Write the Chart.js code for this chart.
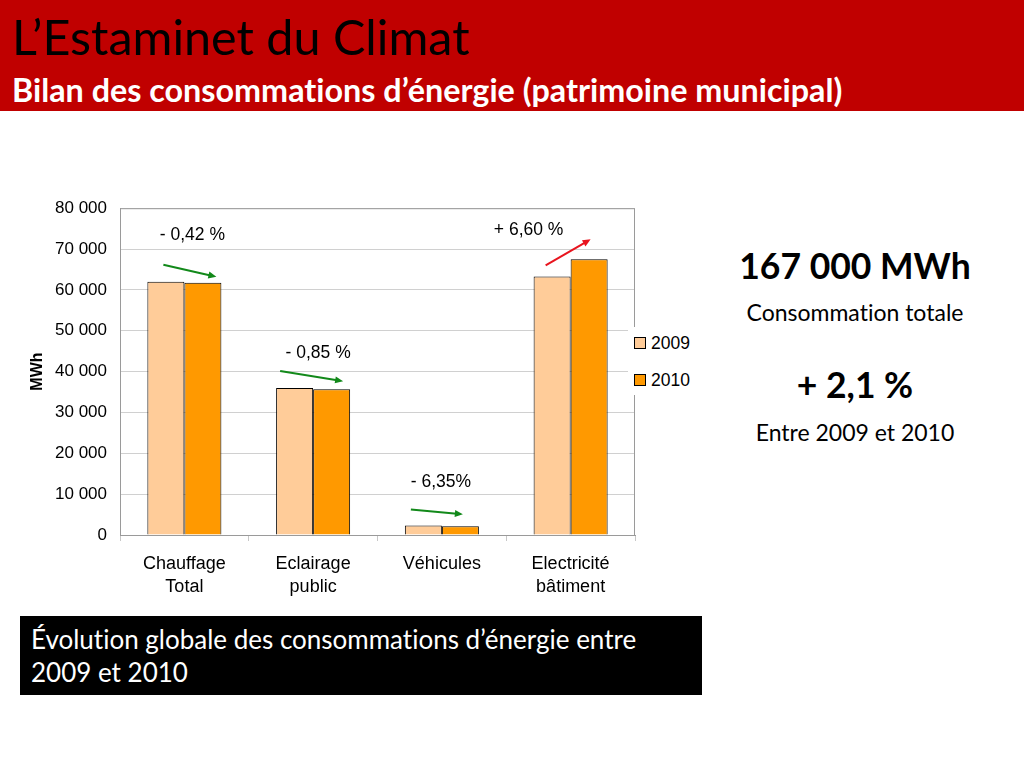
<!DOCTYPE html>
<html>
<head>
<meta charset="utf-8">
<script src="https://cdn.jsdelivr.net/npm/chart.js@4.4.0/dist/chart.umd.min.js"></script>
<style>
  body { margin: 0; width: 1024px; height: 768px; background: #fff; position: relative; overflow: hidden; font-family: Lato, "Open Sans", sans-serif; font-variant-ligatures: none; }
  .header { position: absolute; left: 0; top: 0; width: 1024px; height: 111px; background: #c00000; }
  .title { position: absolute; left: 12px; top: 7px; font-size: 48.5px; color: #000; white-space: nowrap; }
  .subtitle { position: absolute; left: 12px; top: 70px; font-size: 32.3px; font-weight: bold; color: #fff; white-space: nowrap; }
  .chartBox { position: absolute; left: 20px; top: 185px; width: 660px; height: 420px; }
  .legend { position: absolute; left: 628px; top: 327px; width: 66px; height: 68px; background: #fff; font-family: "Liberation Sans", Arial, sans-serif; font-size: 17.5px; }
  .legend div { position: absolute; left: 6px; white-space: nowrap; }
  .legend span { display: inline-block; width: 10px; height: 10px; border: 1px solid #000; margin-right: 5px; vertical-align: 0px; }
  .side { position: absolute; left: 705px; width: 300px; text-align: center; color: #000; white-space: nowrap; }
  .big { font-size: 35.5px; font-weight: bold; }
  .small { font-size: 23px; }
  .note { position: absolute; left: 20px; top: 616px; width: 682px; height: 79px; background: #000; color: #fff; font-size: 26px; line-height: 33px; padding: 7px 11px; box-sizing: border-box; }
</style>
</head>
<body>
<div class="header">
  <div class="title">L’Estaminet du Climat</div>
  <div class="subtitle">Bilan des consommations d’énergie (patrimoine municipal)</div>
</div>

<div class="chartBox"><canvas id="chart"></canvas></div>
<div class="legend">
  <div style="top: 6px"><span style="background:#ffcc99"></span>2009</div>
  <div style="top: 43px"><span style="background:#ff9900"></span>2010</div>
</div>

<div class="side big" style="top: 244px">167 000 MWh</div>
<div class="side small" style="top: 298px">Consommation totale</div>
<div class="side big" style="top: 363px">+ 2,1 %</div>
<div class="side small" style="top: 418px">Entre 2009 et 2010</div>

<div class="note">Évolution globale des consommations d’énergie entre 2009 et 2010</div>

<script>
const categories = [['Chauffage', 'Total'], ['Eclairage', 'public'], ['Véhicules'], ['Electricité', 'bâtiment']];
const values2009 = [62000, 36000, 2300, 63300];
const values2010 = [61740, 35700, 2150, 67480];
const changeLabels = ['- 0,42 %', '- 0,85 %', '- 6,35%', '+ 6,60 %'];
const yTicks = [0, 10000, 20000, 30000, 40000, 50000, 60000, 70000, 80000];

const chartFont = '"Liberation Sans", Arial, sans-serif';

// flèches + pourcentages au-dessus des barres
const arrowPlugin = {
  id: 'arrows',
  afterDatasetsDraw(chart) {
    const ctx = chart.ctx;
    const x = chart.scales.x;
    const y = chart.scales.y;
    // décalages de style (px) par catégorie
    const style = [
      { sx: -21, sy: -17, ex: 32, ey: -6, lx: 8, ly: -30 },
      { sx: -33, sy: -17, ex: 30, ey: -8, lx: 5, ly: -18 },
      { sx: -31, sy: -16, ex: 21, ey: -12, lx: -1, ly: -27 },
      { sx: -25, sy: -11, ex: 20, ey: -20, lx: -42, ly: -9 }
    ];
    ctx.save();
    values2009.forEach((v, i) => {
      const cx = x.getPixelForValue(i);
      const s = style[i];
      const up = values2010[i] > v;
      const color = up ? '#e8141e' : '#12891a';
      const x1 = cx + s.sx, y1 = y.getPixelForValue(v) + s.sy;
      const x2 = cx + s.ex, y2 = y.getPixelForValue(values2010[i]) + s.ey;
      const ang = Math.atan2(y2 - y1, x2 - x1);
      ctx.strokeStyle = color;
      ctx.fillStyle = color;
      ctx.lineWidth = 2;
      ctx.beginPath();
      ctx.moveTo(x1, y1);
      ctx.lineTo(x2 - 6 * Math.cos(ang), y2 - 6 * Math.sin(ang));
      ctx.stroke();
      ctx.beginPath();
      ctx.moveTo(x2, y2);
      ctx.lineTo(x2 - 8 * Math.cos(ang) + 3.5 * Math.sin(ang), y2 - 8 * Math.sin(ang) - 3.5 * Math.cos(ang));
      ctx.lineTo(x2 - 8 * Math.cos(ang) - 3.5 * Math.sin(ang), y2 - 8 * Math.sin(ang) + 3.5 * Math.cos(ang));
      ctx.closePath();
      ctx.fill();
      ctx.fillStyle = '#000';
      ctx.font = '17.5px ' + chartFont;
      ctx.textAlign = 'center';
      ctx.textBaseline = 'middle';
      ctx.fillText(changeLabels[i], cx + s.lx, Math.min(y1, y2) + s.ly);
    });
    ctx.restore();
  },
  beforeDatasetsDraw(chart) {
    const a = chart.chartArea;
    const ctx = chart.ctx;
    ctx.save();
    ctx.strokeStyle = '#9a9a9a';
    ctx.lineWidth = 1;
    ctx.strokeRect(a.left + 0.5, a.top + 0.5, a.right - a.left - 1, a.bottom - a.top);
    ctx.restore();
  }
};

new Chart(document.getElementById('chart'), {
  type: 'bar',
  data: {
    labels: categories,
    datasets: [
      {
        label: '2009',
        data: values2009,
        backgroundColor: '#ffcc99',
        borderColor: '#000',
        borderWidth: 1,
        barPercentage: 1,
        categoryPercentage: 0.575
      },
      {
        label: '2010',
        data: values2010,
        backgroundColor: '#ff9900',
        borderColor: '#000',
        borderWidth: 1,
        barPercentage: 1,
        categoryPercentage: 0.575
      }
    ]
  },
  options: {
    responsive: true,
    maintainAspectRatio: false,
    animation: false,
    layout: { padding: { top: 7, right: 45, left: 0, bottom: 0 } },
    plugins: {
      legend: { display: false },
      tooltip: { enabled: false }
    },
    scales: {
      y: {
        min: 0,
        max: 80000,
        afterBuildTicks: axis => { axis.ticks = yTicks.map(v => ({ value: v })); },
        afterFit: axis => { axis.width = 100; },
        ticks: {
          color: '#000',
          padding: 13,
          font: { family: chartFont, size: 17 },
          callback: v => v.toLocaleString('fr-FR').replace(/\s/g, ' ')
        },
        title: {
          display: true,
          text: 'MWh',
          color: '#000',
          font: { family: chartFont, size: 16, weight: 'bold' },
          padding: { top: 8, bottom: 0 }
        },
        grid: { color: '#d0d0d0', drawTicks: false },
        border: { color: '#9a9a9a' }
      },
      x: {
        afterFit: axis => { axis.height = 70; },
        ticks: {
          color: '#000',
          padding: 11,
          font: { family: chartFont, size: 18, lineHeight: 1.3 }
        },
        grid: { offset: true, drawOnChartArea: false, tickLength: 6, color: '#c8c8c8' },
        border: { color: '#9a9a9a' }
      }
    }
  },
  plugins: [arrowPlugin]
});
</script>
</body>
</html>
